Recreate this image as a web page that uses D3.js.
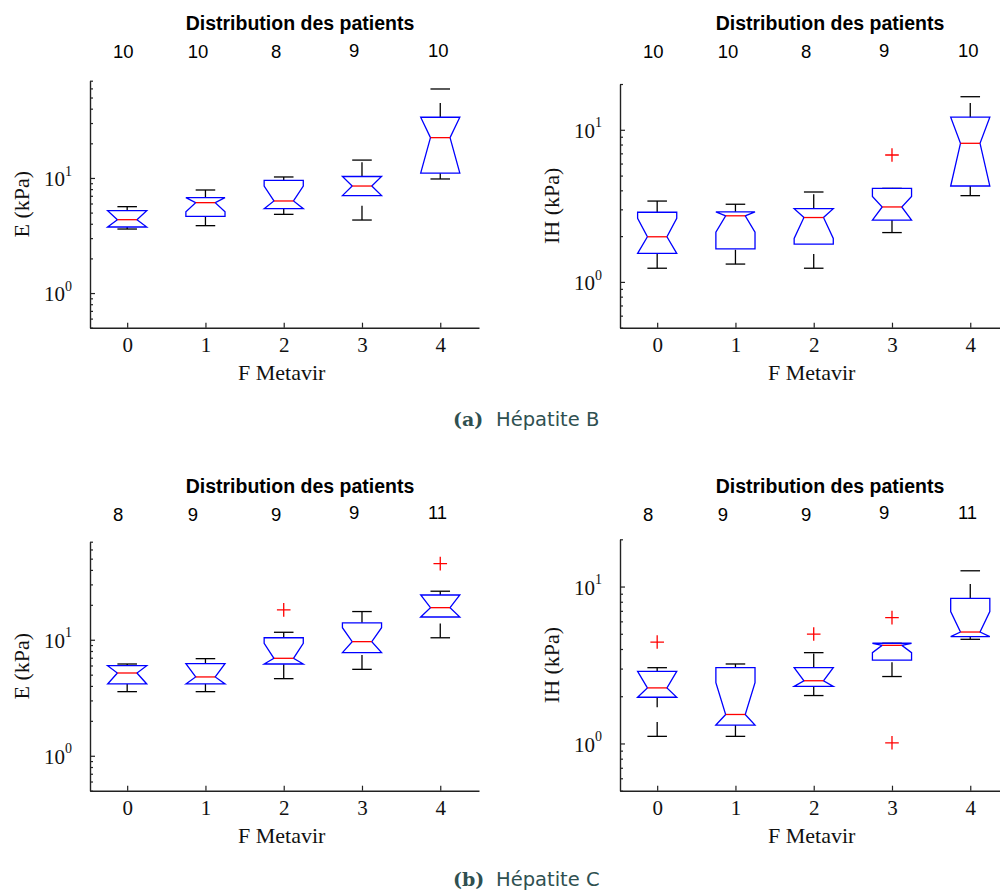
<!DOCTYPE html>
<html><head><meta charset="utf-8">
<script src="https://cdn.jsdelivr.net/npm/d3@7/dist/d3.min.js"></script>
<style>body{margin:0;background:#fff}svg{display:block}</style>
</head><body>
<svg id="chart" width="1000" height="891"></svg>
<script>
// ---------------- DATA ----------------
const categories = [0, 1, 2, 3, 4];
const countsB = [10, 10, 8, 9, 10];
const countsC = [8, 9, 9, 9, 11];

// E (kPa) – Hépatite B
const eB_low     = [3.60, 3.85, 4.83, 4.31, 9.80];
const eB_q1      = [3.75, 4.64, 5.41, 7.02, 11.0];
const eB_med     = [4.34, 6.10, 6.31, 8.51, 22.4];
const eB_q3      = [5.20, 6.74, 9.54, 10.3, 33.7];
const eB_high    = [5.63, 7.86, 10.2, 14.3, 59.3];
const eB_notchLo = [3.75, 5.09, 5.41, 7.02, 11.0];
const eB_notchHi = [5.20, 6.74, 8.51, 10.3, 33.7];
const eB_outCat  = [];
const eB_outVal  = [];

// IH (kPa) – Hépatite B
const ihB_low     = [1.23, 1.31, 1.23, 2.11, 3.69];
const ihB_q1      = [1.54, 1.65, 1.77, 2.55, 4.27];
const ihB_med     = [1.98, 2.72, 2.65, 3.11, 8.15];
const ihB_q3      = [2.87, 2.89, 3.03, 4.12, 12.1];
const ihB_high    = [3.40, 3.24, 3.90, 4.12, 16.5];
const ihB_notchLo = [1.54, 2.12, 1.93, 2.55, 4.27];
const ihB_notchHi = [2.62, 2.89, 3.03, 3.64, 12.1];
const ihB_outCat  = [3];
const ihB_outVal  = [6.83];

// E (kPa) – Hépatite C
const eC_low     = [3.57, 3.57, 4.62, 5.56, 10.4];
const eC_q1      = [4.16, 4.16, 6.18, 7.75, 15.7];
const eC_med     = [5.17, 4.78, 6.92, 9.63, 18.9];
const eC_q3      = [5.98, 6.22, 10.4, 14.0, 24.3];
const eC_high    = [6.18, 6.87, 11.6, 17.5, 26.2];
const eC_notchLo = [4.16, 4.16, 6.18, 7.75, 15.7];
const eC_notchHi = [5.98, 6.22, 9.32, 12.7, 24.3];
const eC_outCat  = [2, 4];
const eC_outVal  = [18.1, 45.3];

// IH (kPa) – Hépatite C
const ihC_low     = [1.11, 1.11, 2.02, 2.67, 4.61];
const ihC_q1      = [1.97, 1.31, 2.31, 3.40, 4.79];
const ihC_med     = [2.26, 1.53, 2.51, 4.22, 5.13];
const ihC_q3      = [2.88, 3.04, 3.04, 4.35, 8.41];
const ihC_high    = [3.04, 3.21, 3.79, 4.35, 12.6];
const ihC_notchLo = [1.97, 1.31, 2.31, 3.79, 4.79];
const ihC_notchHi = [2.88, 2.44, 3.04, 4.35, 6.92];
const ihC_outCat  = [0, 2, 3, 3];
const ihC_outVal  = [4.43, 4.98, 6.34, 1.01];

const yDomainE  = [0.5, 70];
const yDomainIH = [0.5, 20];
const yMajorTicks = [1, 10];
const titleText = "Distribution des patients";
const xLabelText = "F Metavir";
const captions = [["(a)", "Hépatite B"], ["(b)", "Hépatite C"]];

// ---------------- LAYOUT ----------------
const L = {
  colLeft: [90, 620], plotWidth: 389,
  rowBottom: [327.7, 790.7],
  titleBaseline: [30, 493.3], countBaseline: [58.3, 521],
  captionBaseline: [425.7, 886],
  countDx: [-14.3, -17.7, -12.7, -13, -12.3],
  countDy: [0, 0, 0, -1.7, -1.7]
};
const SERIF = "'Liberation Serif','Times New Roman',serif";
const SANS = "'Liberation Sans',Arial,sans-serif";

const panels = [
  {row:0, col:0, top:80.7, dom:yDomainE, label:"E (kPa)", counts:countsB,
   low:eB_low, q1:eB_q1, med:eB_med, q3:eB_q3, high:eB_high, nLo:eB_notchLo, nHi:eB_notchHi, oc:eB_outCat, ov:eB_outVal},
  {row:0, col:1, top:84, dom:yDomainIH, label:"IH (kPa)", counts:countsB,
   low:ihB_low, q1:ihB_q1, med:ihB_med, q3:ihB_q3, high:ihB_high, nLo:ihB_notchLo, nHi:ihB_notchHi, oc:ihB_outCat, ov:ihB_outVal},
  {row:1, col:0, top:541.7, dom:yDomainE, label:"E (kPa)", counts:countsC,
   low:eC_low, q1:eC_q1, med:eC_med, q3:eC_q3, high:eC_high, nLo:eC_notchLo, nHi:eC_notchHi, oc:eC_outCat, ov:eC_outVal},
  {row:1, col:1, top:539.3, dom:yDomainIH, label:"IH (kPa)", counts:countsC,
   low:ihC_low, q1:ihC_q1, med:ihC_med, q3:ihC_q3, high:ihC_high, nLo:ihC_notchLo, nHi:ihC_notchHi, oc:ihC_outCat, ov:ihC_outVal}
];

const svg = d3.select("#chart");

panels.forEach(p => {
  const x0 = L.colLeft[p.col], x1 = x0 + L.plotWidth;
  const y1 = L.rowBottom[p.row], y0 = p.top;
  const x = d3.scaleLinear().domain([-0.475, 4.495]).range([x0, x1]);
  const y = d3.scaleLog().domain(p.dom).range([y1, y0]);
  const g = svg.append("g");

  // Title and counts
  g.append("text").attr("x", x0 + 210).attr("y", L.titleBaseline[p.row])
    .attr("text-anchor", "middle").attr("font-family", SANS).attr("font-weight", "bold")
    .attr("font-size", 19.5).attr("fill", "#000").text(titleText);
  g.selectAll("text.count").data(p.counts).join("text").attr("class", "count")
    .attr("x", (d, i) => x(categories[i]) + L.countDx[i])
    .attr("y", (d, i) => L.countBaseline[p.row] + L.countDy[i])
    .attr("font-family", SANS).attr("font-size", 18.5).attr("fill", "#000")
    .text(d => d);

  // X axis
  const xa = g.append("g").attr("transform", `translate(0,${y1})`)
    .call(d3.axisBottom(x).tickValues(categories).tickSizeInner(-5).tickSizeOuter(0).tickFormat(d3.format("d")));
  xa.selectAll("text").attr("y", 24).attr("dy", null)
    .attr("font-family", SERIF).attr("font-size", 21).attr("fill", "#111");

  // Y axis (major)
  const ya = g.append("g").attr("transform", `translate(${x0},0)`)
    .call(d3.axisLeft(y).tickValues(yMajorTicks).tickSizeInner(-5).tickSizeOuter(0).tickFormat(() => ""));
  ya.selectAll(".tick").each(function(d) {
    const t = d3.select(this).select("text");
    t.text(null).attr("x", -18).attr("y", 7.7).attr("dy", null).attr("text-anchor", "end")
      .attr("font-family", SERIF).attr("font-size", 21).attr("fill", "#111");
    t.append("tspan").text("10");
    t.append("tspan").attr("dy", -10.5).attr("font-size", 14).text(Math.round(Math.log10(d)));
  });
  // Minor ticks
  const minor = y.ticks().filter(v => !yMajorTicks.some(m => Math.abs(m - v) < 1e-9));
  g.append("g").attr("transform", `translate(${x0},0)`)
    .call(d3.axisLeft(y).tickValues(minor).tickSizeInner(-3).tickSizeOuter(0).tickFormat(() => ""))
    .select(".domain").remove();

  [xa, ya].forEach(a => a.select(".domain").attr("stroke", "#222").attr("stroke-width", 1.4));
  g.selectAll(".tick line").attr("stroke", "#222").attr("stroke-width", 1.2);

  // Axis labels
  g.append("text").attr("x", x(2) - 2).attr("y", y1 + 52.5).attr("text-anchor", "middle")
    .attr("font-family", SERIF).attr("font-size", 22).attr("fill", "#111").text(xLabelText);
  g.append("text").attr("transform", `translate(${x0 - 61},${(y0 + y1) / 2}) rotate(-90)`)
    .attr("text-anchor", "middle").attr("font-family", SERIF).attr("font-size", 22)
    .attr("fill", "#111").text(p.label);

  // Boxes
  const hw = 0.25, nw = 0.125, cw = 0.125;
  categories.forEach((c, i) => {
    const b = g.append("g");
    // whiskers (dashed): upper from q3 upward, lower from cap upward to q1
    b.append("line").attr("x1", x(c)).attr("x2", x(c)).attr("y1", y(p.q3[i])).attr("y2", y(p.high[i]))
      .attr("stroke", "#000").attr("stroke-width", 1.3).attr("stroke-dasharray", "14.3,14.7");
    b.append("line").attr("x1", x(c)).attr("x2", x(c)).attr("y1", y(p.low[i])).attr("y2", y(p.q1[i]))
      .attr("stroke", "#000").attr("stroke-width", 1.3).attr("stroke-dasharray", "14.3,14.7");
    // caps
    [p.low[i], p.high[i]].forEach(v => {
      b.append("line").attr("x1", x(c - cw)).attr("x2", x(c + cw)).attr("y1", y(v)).attr("y2", y(v))
        .attr("stroke", "#000").attr("stroke-width", 1.3);
    });
    // notched box
    const pts = [
      [c - hw, p.q1[i]], [c - hw, p.nLo[i]], [c - nw, p.med[i]], [c - hw, p.nHi[i]], [c - hw, p.q3[i]],
      [c + hw, p.q3[i]], [c + hw, p.nHi[i]], [c + nw, p.med[i]], [c + hw, p.nLo[i]], [c + hw, p.q1[i]]
    ];
    b.append("path").attr("d", d3.line().x(d => x(d[0])).y(d => y(d[1]))(pts) + "Z")
      .attr("fill", "none").attr("stroke", "#0000ff").attr("stroke-width", 1.3);
    // median
    b.append("line").attr("x1", x(c - nw)).attr("x2", x(c + nw)).attr("y1", y(p.med[i])).attr("y2", y(p.med[i]))
      .attr("stroke", "#ff0000").attr("stroke-width", 1.3);
  });

  // Outliers
  p.ov.forEach((v, k) => {
    const cx = x(p.oc[k]), cy = y(v), s = 6.8;
    g.append("path").attr("d", `M${cx - s},${cy}H${cx + s}M${cx},${cy - s}V${cy + s}`)
      .attr("stroke", "#ff0000").attr("stroke-width", 1.3).attr("fill", "none");
  });
});

// Captions
captions.forEach((cap, r) => {
  const t = svg.append("text").attr("y", L.captionBaseline[r]).attr("fill", "#2f5050");
  t.append("tspan").attr("x", 453).attr("font-family", "'DejaVu Serif',serif").attr("font-weight", "bold")
    .attr("font-size", 19).text(cap[0]);
  t.append("tspan").attr("x", 496).attr("font-family", "'DejaVu Sans',sans-serif")
    .attr("font-size", 19.5).text(cap[1]);
});
</script>
</body></html>
